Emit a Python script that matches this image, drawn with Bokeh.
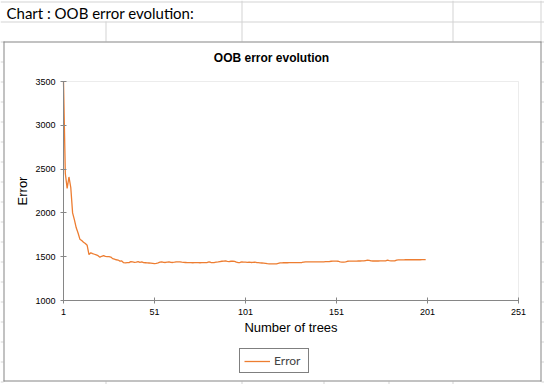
from bokeh.plotting import figure
from bokeh.models import (Range1d, FixedTicker, Label, BoxAnnotation, Legend,
                          LegendItem)
from bokeh.embed import file_html
from bokeh.resources import INLINE

# ---------------- data ----------------
trees = list(range(1, 201))
error = [
    3500, 2450, 2280, 2410, 2290, 2000, 1920, 1830, 1770, 1700,
    1685, 1665, 1650, 1630, 1525, 1545, 1535, 1528, 1520, 1512,
    1495, 1505, 1512, 1503, 1500, 1500, 1496, 1478, 1472, 1465,
    1462, 1450, 1452, 1432, 1430, 1433, 1432, 1443, 1440, 1436,
    1438, 1444, 1436, 1440, 1432, 1431, 1430, 1428, 1426, 1424,
    1422, 1425, 1430, 1437, 1442, 1436, 1434, 1438, 1442, 1436,
    1434, 1437, 1442, 1441, 1440, 1437, 1436, 1434, 1432, 1432,
    1432, 1431, 1432, 1432, 1432, 1431, 1432, 1432, 1432, 1434,
    1440, 1434, 1432, 1434, 1437, 1440, 1444, 1448, 1450, 1452,
    1446, 1444, 1448, 1450, 1446, 1438, 1432, 1434, 1440, 1438,
    1437, 1436, 1438, 1434, 1436, 1438, 1434, 1432, 1430, 1428,
    1426, 1424, 1420, 1418, 1418, 1417, 1418, 1418, 1424, 1430,
    1430, 1431, 1431, 1431, 1432, 1432, 1432, 1432, 1432, 1432,
    1433, 1434, 1438, 1442, 1440, 1440, 1441, 1441, 1441, 1442,
    1442, 1442, 1442, 1442, 1443, 1443, 1444, 1448, 1450, 1450,
    1450, 1448, 1440, 1438, 1438, 1442, 1448, 1449, 1450, 1450,
    1450, 1450, 1451, 1451, 1452, 1452, 1456, 1460, 1458, 1452,
    1451, 1451, 1451, 1451, 1452, 1452, 1452, 1453, 1460, 1455,
    1452, 1452, 1453, 1462, 1464, 1464, 1464, 1464, 1465, 1465,
    1465, 1465, 1465, 1465, 1465, 1465, 1465, 1466, 1466, 1466,
]
x_ticks = [1, 51, 101, 151, 201, 251]
y_ticks = [1000, 1500, 2000, 2500, 3000, 3500]
x_min, x_max = 1, 251
y_min, y_max = 1000, 3500
series_name = "Error"
chart_title = "OOB error evolution"
x_title = "Number of trees"
y_title = "Error"
sheet_caption = "Chart : OOB error evolution:"

# ---------------- layout (pixels of the 544x384 picture) ----------------
W, H = 544, 384
PL, PR, PT, PB = 63, 518, 81, 300          # plot area inside the chart

# the frame is the whole canvas; the data box is placed by extending ranges
kx = (PR - PL) / (x_max - x_min)
ky = (PB - PT) / (y_max - y_min)
x_range = Range1d(x_min - PL / kx, x_max + (W - PR) / kx)
y_range = Range1d(y_min - (H - PB) / ky, y_max + PT / ky)

p = figure(width=W, height=H, output_backend="svg", toolbar_location=None,
           x_range=x_range, y_range=y_range,
           min_border_left=0, min_border_right=0,
           min_border_top=0, min_border_bottom=0)
p.styles = {"position": "absolute", "left": "0px", "top": "0px"}
p.title.visible = False
p.background_fill_color = "white"
p.border_fill_color = "white"
p.outline_line_color = None
p.xgrid.visible = False
p.ygrid.visible = False

# plot-area box (light grey, top & right visible)
p.add_layout(BoxAnnotation(left=x_min, right=x_max, bottom=y_min, top=y_max,
                           fill_color=None, fill_alpha=0,
                           line_color="#bfbfbf", line_width=1, level="underlay"))

r = p.line(trees, error, line_color="#ED7D31", line_width=1.3)

for ax in (p.xaxis[0], p.yaxis[0]):
    ax.axis_line_color = "#868686"
    ax.major_tick_line_color = "#868686"
    ax.major_tick_in = 3
    ax.major_tick_out = 3
    ax.minor_tick_line_color = None
    ax.major_label_text_font = "Liberation Sans"
    ax.major_label_text_font_size = "9px"
    ax.major_label_text_color = "#000000"
    ax.axis_label_text_font = "Liberation Sans"
    ax.axis_label_text_font_size = "13px"
    ax.axis_label_text_font_style = "normal"
    ax.axis_label_text_color = "#000000"

p.xaxis.ticker = FixedTicker(ticks=x_ticks)
p.yaxis.ticker = FixedTicker(ticks=y_ticks)
p.xaxis.bounds = (x_min, x_max)
p.yaxis.bounds = (y_min, y_max)
p.xaxis.fixed_location = y_min
p.yaxis.fixed_location = x_min
p.xaxis.axis_label = x_title
p.yaxis.axis_label = y_title
p.xaxis.major_label_standoff = 5
p.yaxis.major_label_standoff = 5
p.xaxis.axis_label_standoff = 2
p.yaxis.axis_label_standoff = 2


def sx(X):
    return X


def sy(Y):
    return H - Y


def box(x0, x1, y0, y1, color):
    p.add_layout(BoxAnnotation(left=sx(x0), right=sx(x1), top=sy(y0), bottom=sy(y1),
                               left_units="screen", right_units="screen",
                               top_units="screen", bottom_units="screen",
                               fill_color=color, fill_alpha=1, line_alpha=0,
                               level="annotation"))


GRID = "#d4d4d4"
# spreadsheet rows
box(0, W, 1, 2, GRID)
box(0, W, 21, 22, GRID)
for y in range(41, 381, 20):
    box(0, 3, y, y + 1, GRID)
    box(541, W, y, y + 1, GRID)
box(0, 3, 381, 382, GRID)
box(541, W, 381, 382, GRID)
# spreadsheet columns (above chart)
for x in (241, 452, 540):
    box(x, x + 1, 0, 41, GRID)
box(105, 106, 21, 41, GRID)
# spreadsheet columns (below chart)
for x in (105, 241, 323, 388, 452):
    box(x, x + 1, 381, H, GRID)

# chart border
BORDER = "#868686"
box(3, 541, 41, 42, BORDER)
box(3, 541, 380, 381, BORDER)
box(3, 4, 41, 381, BORDER)
box(540, 541, 41, 381, BORDER)

p.add_layout(Label(x=sx(271), y=sy(57), x_units="screen", y_units="screen",
                   text=chart_title, text_align="center", text_baseline="middle",
                   text_font="Liberation Sans", text_font_style="bold",
                   text_font_size="12px", text_color="black"))
p.add_layout(Label(x=sx(6), y=sy(12), x_units="screen", y_units="screen",
                   text=sheet_caption, text_align="left", text_baseline="middle",
                   text_font="Lato", text_font_size="15px", text_color="black"))

legend = Legend(items=[LegendItem(label=series_name, renderers=[r])],
                location=(sx(239), sy(373)), orientation="vertical",
                border_line_color="black", border_line_width=1,
                background_fill_color="white", background_fill_alpha=1,
                label_text_font="Lato", label_text_font_size="12px",
                glyph_width=26, glyph_height=14, label_height=14, label_width=30,
                label_standoff=4, padding=4, spacing=0, margin=0)
p.add_layout(legend)

open("out.html", "w").write(file_html(p, INLINE))
